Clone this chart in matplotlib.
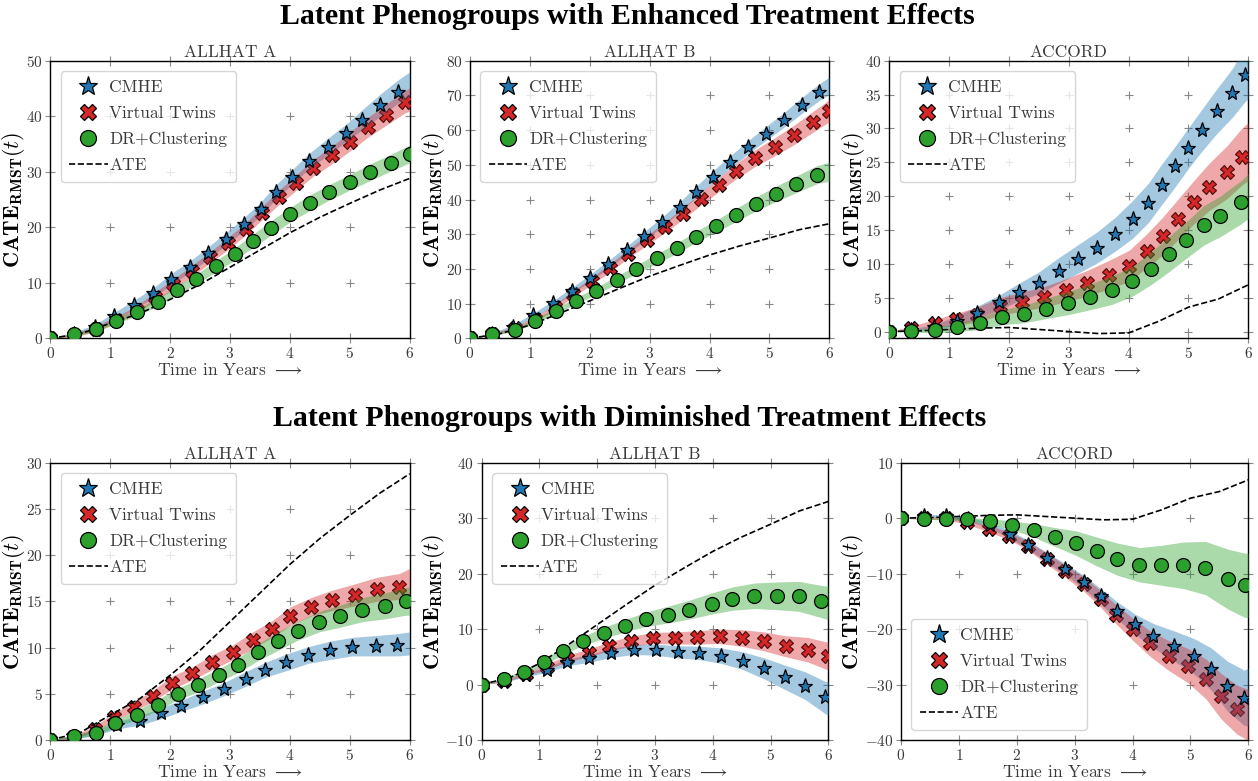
import numpy as np
import matplotlib
matplotlib.use("Agg")
import matplotlib.pyplot as plt
from matplotlib.lines import Line2D

plt.rcParams["font.family"] = "serif"
plt.rcParams["font.serif"] = ["cmr10"]
plt.rcParams["mathtext.fontset"] = "cm"
plt.rcParams["axes.formatter.use_mathtext"] = True

# ──────────────────────────────
# Data
# each series: marker times, marker values, band half-width,
# tail = (value, half-width) of the band at t=6 when no marker sits there
# ──────────────────────────────
ATE_T = [0, 0.5, 1, 1.5, 2, 2.5, 3, 3.5, 4, 4.5, 5, 5.5, 6]
ATE_ALLHAT_A = [0, 0.8, 2.7, 4.5, 7.0, 9.7, 12.8, 15.9, 19.0, 21.8, 24.3, 26.7, 28.8]
ATE_ALLHAT_B = [0, 1.3, 3.8, 7.2, 10.8, 14.4, 17.9, 21.0, 24.0, 26.6, 28.9, 31.3, 33.0]
ATE_ACCORD = [0, 0.1, 0.3, 0.5, 0.6, 0.3, 0.0, -0.3, -0.2, 1.5, 3.6, 4.8, 6.9]

# Enhanced, ALLHAT A
ENH_A_CMHE_T = [0, 0.39, 0.75, 1.07, 1.39, 1.71, 2.01, 2.33, 2.64, 2.93, 3.23, 3.51, 3.76, 4.04, 4.32, 4.63, 4.93, 5.21, 5.51, 5.80]
ENH_A_CMHE_Y = [0, 0.8, 2.0, 4.0, 6.0, 8.1, 10.6, 12.9, 15.4, 17.9, 20.5, 23.3, 26.3, 29.1, 31.9, 34.5, 36.9, 39.4, 42.0, 44.4]
ENH_A_CMHE_E = [0, 0.3, 0.5, 0.7, 0.8, 0.9, 1.0, 1.0, 1.1, 1.1, 1.2, 1.2, 1.3, 1.3, 1.4, 1.5, 1.6, 1.8, 2.0, 2.1]
ENH_A_CMHE_TAIL = (45.8, 2.2)
ENH_A_VT_T = [0, 0.39, 0.76, 1.09, 1.44, 1.74, 2.05, 2.37, 2.67, 2.97, 3.26, 3.54, 3.82, 4.10, 4.39, 4.70, 5.00, 5.30, 5.61, 5.92]
ENH_A_VT_Y = [0, 0.5, 1.7, 3.3, 5.1, 7.5, 9.7, 12.2, 14.6, 17.1, 19.7, 22.6, 25.4, 28.0, 30.7, 33.0, 35.4, 38.0, 40.3, 42.6]
ENH_A_VT_E = [0, 0.3, 0.5, 0.6, 0.7, 0.8, 0.9, 1.0, 1.0, 1.1, 1.1, 1.2, 1.3, 1.4, 1.5, 1.6, 1.7, 1.8, 1.9, 2.0]
ENH_A_VT_TAIL = (43.0, 2.1)
ENH_A_DR_T = [0, 0.39, 0.76, 1.09, 1.45, 1.79, 2.12, 2.44, 2.77, 3.08, 3.39, 3.69, 4.01, 4.33, 4.66, 5.00, 5.34, 5.68, 6.0]
ENH_A_DR_Y = [0, 0.7, 1.6, 3.1, 4.7, 6.5, 8.7, 10.7, 13.0, 15.2, 17.6, 19.9, 22.3, 24.4, 26.3, 28.1, 29.9, 31.6, 33.2]
ENH_A_DR_E = [0, 0.3, 0.4, 0.5, 0.6, 0.7, 0.8, 0.9, 1.0, 1.1, 1.2, 1.3, 1.3, 1.4, 1.4, 1.4, 1.5, 1.5, 1.6]
ENH_A_DR_TAIL = None

# Enhanced, ALLHAT B
ENH_B_CMHE_T = [0, 0.36, 0.72, 1.06, 1.39, 1.70, 2.01, 2.31, 2.62, 2.91, 3.21, 3.50, 3.77, 4.05, 4.34, 4.64, 4.94, 5.24, 5.54, 5.83]
ENH_B_CMHE_Y = [0, 1.2, 3.4, 6.6, 10.1, 13.7, 17.5, 21.3, 25.4, 29.4, 33.6, 37.8, 42.1, 46.5, 50.7, 55.0, 59.0, 62.9, 67.1, 70.9]
ENH_B_CMHE_E = [0, 0.3, 0.5, 0.7, 0.8, 0.9, 1.0, 1.1, 1.2, 1.3, 1.4, 1.5, 1.6, 1.7, 1.8, 1.9, 2.0, 2.1, 2.3, 2.4]
ENH_B_CMHE_TAIL = (72.8, 2.5)
ENH_B_VT_T = [0, 0.37, 0.75, 1.09, 1.42, 1.72, 2.03, 2.34, 2.64, 2.95, 3.26, 3.55, 3.85, 4.15, 4.45, 4.76, 5.09, 5.41, 5.72, 6.0]
ENH_B_VT_Y = [0, 1.1, 2.9, 5.5, 9.0, 12.8, 16.5, 20.3, 24.4, 28.2, 32.0, 35.9, 40.1, 44.2, 48.2, 51.9, 55.2, 58.6, 62.3, 65.6]
ENH_B_VT_E = [0, 0.3, 0.5, 0.7, 0.8, 0.9, 1.0, 1.2, 1.3, 1.4, 1.5, 1.7, 1.8, 2.0, 2.2, 2.4, 2.6, 2.8, 3.0, 3.2]
ENH_B_VT_TAIL = None
ENH_B_DR_T = [0, 0.37, 0.75, 1.08, 1.43, 1.77, 2.11, 2.45, 2.78, 3.12, 3.45, 3.77, 4.10, 4.44, 4.77, 5.11, 5.45, 5.80]
ENH_B_DR_Y = [0, 1.1, 2.5, 5.0, 7.9, 10.8, 13.7, 16.8, 19.9, 23.0, 25.9, 29.2, 32.3, 35.5, 38.7, 41.6, 44.4, 47.2]
ENH_B_DR_E = [0, 0.3, 0.5, 0.7, 0.8, 0.9, 1.0, 1.1, 1.2, 1.4, 1.5, 1.6, 1.7, 1.9, 2.0, 2.2, 2.4, 2.6]
ENH_B_DR_TAIL = (48.0, 2.75)

# Enhanced, ACCORD
ENH_C_CMHE_T = [0, 0.36, 0.75, 1.13, 1.46, 1.84, 2.16, 2.50, 2.83, 3.15, 3.47, 3.78, 4.07, 4.33, 4.55, 4.78, 5.00, 5.23, 5.47, 5.73, 5.94]
ENH_C_CMHE_Y = [0, 0.2, 0.6, 1.6, 2.8, 4.3, 5.8, 7.2, 9.0, 10.7, 12.4, 14.4, 16.6, 19.0, 21.7, 24.4, 27.1, 29.8, 32.5, 35.2, 37.9]
ENH_C_CMHE_E = [0, 0.2, 0.4, 0.7, 0.9, 1.1, 1.3, 1.6, 1.9, 2.1, 2.3, 2.5, 2.8, 2.9, 3.0, 3.0, 3.0, 3.1, 3.3, 3.6, 4.0]
ENH_C_CMHE_TAIL = (38.6, 4.2)
ENH_C_VT_T = [0, 0.37, 0.76, 1.12, 1.47, 1.85, 2.21, 2.58, 2.95, 3.30, 3.67, 4.01, 4.30, 4.57, 4.83, 5.09, 5.35, 5.64, 5.89]
ENH_C_VT_Y = [0, 0.5, 1.2, 1.8, 2.5, 3.7, 4.4, 5.1, 6.1, 7.1, 8.4, 9.7, 11.9, 14.1, 16.6, 19.1, 21.4, 23.5, 25.8]
ENH_C_VT_E = [0, 0.3, 0.6, 0.9, 1.1, 1.3, 1.4, 1.5, 1.7, 1.9, 2.1, 2.3, 2.5, 2.8, 3.0, 3.2, 3.5, 3.9, 4.2]
ENH_C_VT_TAIL = (26.6, 4.3)
ENH_C_DR_T = [0, 0.37, 0.77, 1.13, 1.52, 1.88, 2.25, 2.62, 2.99, 3.35, 3.72, 4.06, 4.37, 4.67, 4.96, 5.26, 5.53, 5.88]
ENH_C_DR_Y = [0, 0.1, 0.2, 0.6, 1.2, 2.1, 2.6, 3.4, 4.2, 5.1, 6.1, 7.4, 9.3, 11.4, 13.5, 15.7, 17.0, 19.1]
ENH_C_DR_E = [0, 0.2, 0.4, 0.6, 0.9, 1.1, 1.3, 1.5, 1.7, 1.9, 2.1, 2.2, 2.4, 2.6, 2.7, 2.9, 3.0, 3.2]
ENH_C_DR_TAIL = (20.0, 3.3)

# Diminished, ALLHAT A
DIM_A_CMHE_T = [0, 0.40, 0.76, 1.11, 1.49, 1.85, 2.19, 2.55, 2.90, 3.26, 3.59, 3.94, 4.31, 4.67, 5.04, 5.43, 5.79]
DIM_A_CMHE_Y = [0, 0.3, 0.8, 1.6, 2.1, 2.9, 3.7, 4.6, 5.5, 6.6, 7.6, 8.4, 9.2, 9.7, 10.1, 10.2, 10.3]
DIM_A_CMHE_E = [0, 0.2, 0.3, 0.4, 0.5, 0.6, 0.6, 0.7, 0.7, 0.8, 0.8, 0.9, 0.9, 1.0, 1.0, 1.1, 1.2]
DIM_A_CMHE_TAIL = (10.45, 1.25)
DIM_A_VT_T = [0, 0.38, 0.74, 1.06, 1.39, 1.72, 2.03, 2.37, 2.70, 3.05, 3.38, 3.70, 4.01, 4.35, 4.70, 5.09, 5.45, 5.82]
DIM_A_VT_Y = [0, 0.3, 1.2, 2.5, 3.6, 4.8, 6.2, 7.2, 8.4, 9.5, 10.8, 12.0, 13.4, 14.4, 15.1, 15.7, 16.3, 16.6]
DIM_A_VT_E = [0, 0.2, 0.3, 0.4, 0.5, 0.6, 0.7, 0.7, 0.8, 0.8, 0.9, 0.9, 1.0, 1.0, 1.1, 1.2, 1.3, 1.4]
DIM_A_VT_TAIL = (17.05, 1.5)
DIM_A_DR_T = [0, 0.40, 0.76, 1.08, 1.44, 1.79, 2.13, 2.47, 2.81, 3.14, 3.47, 3.80, 4.13, 4.49, 4.84, 5.21, 5.58, 5.94]
DIM_A_DR_Y = [0, 0.4, 0.8, 1.8, 2.7, 3.8, 5.0, 5.9, 7.0, 8.1, 9.5, 10.7, 11.8, 12.8, 13.4, 14.1, 14.5, 15.0]
DIM_A_DR_E = [0, 0.2, 0.3, 0.4, 0.5, 0.6, 0.6, 0.7, 0.7, 0.8, 0.9, 1.0, 1.0, 1.1, 1.2, 1.3, 1.4, 1.5]
DIM_A_DR_TAIL = (15.05, 1.55)

# Diminished, ALLHAT B
DIM_B_CMHE_T = [0, 0.39, 0.76, 1.13, 1.48, 1.86, 2.24, 2.63, 3.01, 3.39, 3.77, 4.15, 4.52, 4.89, 5.25, 5.60, 5.94]
DIM_B_CMHE_Y = [0, 0.6, 1.7, 2.7, 4.0, 4.7, 5.7, 6.3, 6.3, 5.9, 5.7, 5.2, 4.3, 2.9, 1.3, -0.2, -2.3]
DIM_B_CMHE_E = [0, 0.2, 0.3, 0.5, 0.6, 0.7, 0.8, 0.9, 1.0, 1.1, 1.2, 1.4, 1.6, 1.9, 2.2, 2.5, 2.9]
DIM_B_CMHE_TAIL = (-2.5, 3.0)
DIM_B_VT_T = [0, 0.39, 0.76, 1.13, 1.48, 1.85, 2.21, 2.58, 2.97, 3.35, 3.73, 4.12, 4.50, 4.88, 5.26, 5.64, 6.0]
DIM_B_VT_Y = [0, 0.7, 1.9, 3.2, 4.7, 5.7, 6.9, 7.8, 8.4, 8.4, 8.5, 8.7, 8.4, 7.8, 6.9, 6.3, 5.1]
DIM_B_VT_E = [0, 0.2, 0.3, 0.5, 0.6, 0.7, 0.8, 0.9, 1.0, 1.1, 1.2, 1.3, 1.5, 1.7, 1.9, 2.2, 2.5]
DIM_B_VT_TAIL = None
DIM_B_DR_T = [0, 0.39, 0.74, 1.08, 1.41, 1.76, 2.11, 2.48, 2.85, 3.22, 3.59, 3.98, 4.34, 4.72, 5.11, 5.49, 5.87]
DIM_B_DR_Y = [0, 1.0, 2.3, 4.1, 6.1, 7.9, 9.3, 10.6, 11.8, 12.6, 13.5, 14.6, 15.5, 16.0, 16.0, 15.9, 15.0]
DIM_B_DR_E = [0, 0.2, 0.4, 0.5, 0.7, 0.8, 1.0, 1.1, 1.3, 1.5, 1.7, 1.9, 2.1, 2.3, 2.5, 2.7, 2.9]
DIM_B_DR_TAIL = (14.7, 3.0)

# Diminished, ACCORD
DIM_C_CMHE_T = [0, 0.40, 0.77, 1.15, 1.53, 1.88, 2.20, 2.52, 2.84, 3.17, 3.45, 3.74, 4.04, 4.36, 4.71, 5.06, 5.36, 5.64, 5.93]
DIM_C_CMHE_Y = [0, 0.4, 0.4, -0.1, -1.3, -2.9, -4.8, -7.1, -9.2, -11.6, -14.1, -16.7, -19.1, -21.2, -23.0, -24.9, -27.2, -30.3, -32.4]
DIM_C_CMHE_E = [0, 0.2, 0.3, 0.4, 0.5, 0.7, 0.8, 0.9, 1.0, 1.2, 1.4, 1.6, 1.8, 2.2, 2.7, 3.2, 3.8, 4.5, 5.0]
DIM_C_CMHE_TAIL = (-32.2, 5.2)
DIM_C_VT_T = [0, 0.40, 0.77, 1.14, 1.52, 1.87, 2.20, 2.52, 2.84, 3.16, 3.45, 3.72, 4.00, 4.30, 4.63, 4.96, 5.27, 5.53, 5.80]
DIM_C_VT_Y = [0, 0, 0, -0.7, -1.9, -3.2, -5.0, -7.3, -9.6, -11.9, -14.6, -17.4, -20.0, -22.6, -24.8, -26.6, -29.0, -32.1, -34.5]
DIM_C_VT_E = [0, 0.2, 0.3, 0.4, 0.6, 0.7, 0.8, 1.0, 1.1, 1.3, 1.5, 1.7, 2.0, 2.3, 2.7, 3.1, 3.6, 4.1, 4.4]
DIM_C_VT_TAIL = (-35.5, 4.6)
DIM_C_DR_T = [0, 0.40, 0.77, 1.14, 1.53, 1.92, 2.29, 2.66, 3.02, 3.38, 3.74, 4.12, 4.50, 4.88, 5.26, 5.65, 5.94]
DIM_C_DR_Y = [0, -0.1, -0.1, -0.2, -0.6, -1.3, -2.2, -3.4, -4.5, -6.0, -7.4, -8.4, -8.5, -8.5, -9.0, -11.0, -12.1]
DIM_C_DR_E = [0, 0.1, 0.2, 0.3, 0.5, 0.8, 1.2, 1.7, 2.2, 2.6, 2.9, 3.1, 3.6, 4.2, 4.8, 5.4, 5.8]
DIM_C_DR_TAIL = (-12.1, 5.8)

# ──────────────────────────────
# Style
# ──────────────────────────────
LABELS = ["CMHE", "Virtual Twins", "DR+Clustering"]
COLORS = ["#1f77b4", "#d62728", "#2ca02c"]
MARKERS = ["*", "X", "o"]
MSIZES = [11, 9.5, 10]
LEG_MSIZES = [14, 11.5, 11.5]
MZORDER = [5, 2.9, 5]
TICK_GRAY = "#888888"
TEXT_GRAY = "#3a3a3a"

W, H = 1258, 781
ROW_TITLES = ["Latent Phenogroups with Enhanced Treatment Effects",
              "Latent Phenogroups with Diminished Treatment Effects"]


def px_axes(left, top, right, bottom):
    return [left / W, 1 - bottom / H, (right - left) / W, (bottom - top) / H]


# ylab_px: right edge of the (rotated) y label, in figure pixels
PANELS = [
    dict(title="ALLHAT A", box=(50.3, 60.7, 409.7, 338.3), ylab_px=27, ylim=(0, 50), ystep=10,
         ate=ATE_ALLHAT_A, loc="upper left",
         series=[(ENH_A_CMHE_T, ENH_A_CMHE_Y, ENH_A_CMHE_E, ENH_A_CMHE_TAIL),
                 (ENH_A_VT_T, ENH_A_VT_Y, ENH_A_VT_E, ENH_A_VT_TAIL),
                 (ENH_A_DR_T, ENH_A_DR_Y, ENH_A_DR_E, ENH_A_DR_TAIL)]),
    dict(title="ALLHAT B", box=(470, 60.7, 829.3, 338.3), ylab_px=447, ylim=(0, 80), ystep=10,
         ate=ATE_ALLHAT_B, loc="upper left",
         series=[(ENH_B_CMHE_T, ENH_B_CMHE_Y, ENH_B_CMHE_E, ENH_B_CMHE_TAIL),
                 (ENH_B_VT_T, ENH_B_VT_Y, ENH_B_VT_E, ENH_B_VT_TAIL),
                 (ENH_B_DR_T, ENH_B_DR_Y, ENH_B_DR_E, ENH_B_DR_TAIL)]),
    dict(title="ACCORD", box=(889.3, 60.7, 1248.3, 338.3), ylab_px=867, ylim=(-1, 40), ystep=5,
         ate=ATE_ACCORD, loc="upper left",
         series=[(ENH_C_CMHE_T, ENH_C_CMHE_Y, ENH_C_CMHE_E, ENH_C_CMHE_TAIL),
                 (ENH_C_VT_T, ENH_C_VT_Y, ENH_C_VT_E, ENH_C_VT_TAIL),
                 (ENH_C_DR_T, ENH_C_DR_Y, ENH_C_DR_E, ENH_C_DR_TAIL)]),
    dict(title="ALLHAT A", box=(50.3, 462.7, 409.7, 740), ylab_px=27, ylim=(0, 30), ystep=5,
         ate=ATE_ALLHAT_A, loc="upper left",
         series=[(DIM_A_CMHE_T, DIM_A_CMHE_Y, DIM_A_CMHE_E, DIM_A_CMHE_TAIL),
                 (DIM_A_VT_T, DIM_A_VT_Y, DIM_A_VT_E, DIM_A_VT_TAIL),
                 (DIM_A_DR_T, DIM_A_DR_Y, DIM_A_DR_E, DIM_A_DR_TAIL)]),
    dict(title="ALLHAT B", box=(481.7, 462.7, 828.3, 740), ylab_px=447, ylim=(-10, 40), ystep=10,
         ate=ATE_ALLHAT_B, loc="upper left",
         series=[(DIM_B_CMHE_T, DIM_B_CMHE_Y, DIM_B_CMHE_E, DIM_B_CMHE_TAIL),
                 (DIM_B_VT_T, DIM_B_VT_Y, DIM_B_VT_E, DIM_B_VT_TAIL),
                 (DIM_B_DR_T, DIM_B_DR_Y, DIM_B_DR_E, DIM_B_DR_TAIL)]),
    dict(title="ACCORD", box=(901, 462.7, 1248.3, 740), ylab_px=866, ylim=(-40, 10), ystep=10,
         ate=ATE_ACCORD, loc="lower left",
         series=[(DIM_C_CMHE_T, DIM_C_CMHE_Y, DIM_C_CMHE_E, DIM_C_CMHE_TAIL),
                 (DIM_C_VT_T, DIM_C_VT_Y, DIM_C_VT_E, DIM_C_VT_TAIL),
                 (DIM_C_DR_T, DIM_C_DR_Y, DIM_C_DR_E, DIM_C_DR_TAIL)]),
]


def draw_panel(ax, p):
    for (t, y, e, tail), color, marker, ms, mz in zip(p["series"], COLORS, MARKERS, MSIZES, MZORDER):
        t, y, e = np.array(t, float), np.array(y, float), np.array(e, float)
        ax.plot(t, y, linestyle="none", marker=marker, ms=ms, mfc=color,
                mec="black", mew=0.9, zorder=mz)
        tb, yb, eb = t, y, e
        if tail is not None:
            tb = np.append(t, 6.0)
            yb = np.append(y, tail[0])
            eb = np.append(e, tail[1])
        ax.fill_between(tb, yb - eb, yb + eb, color=color, alpha=0.4, lw=0, zorder=3)

    ax.plot(ATE_T, p["ate"], color="black", ls="--", lw=1.2, zorder=4)

    ax.set_xlim(0, 6)
    ax.set_ylim(*p["ylim"])
    xt = np.arange(0, 7, 1)
    lo = int(np.ceil(p["ylim"][0] / p["ystep"]) * p["ystep"])
    yt = np.arange(lo, p["ylim"][1] + 0.01, p["ystep"])
    ax.set_xticks(xt)
    ax.set_yticks(yt)
    ax.tick_params(direction="inout", length=7, width=0.8, color=TICK_GRAY,
                   labelcolor=TEXT_GRAY, labelsize=11, top=True, right=True, pad=2)

    # "+" marks at the interior tick crossings
    gx, gy = np.meshgrid(xt[1:-1], [v for v in yt if p["ylim"][0] < v < p["ylim"][1]])
    ax.plot(gx.ravel(), gy.ravel(), linestyle="none", marker="+", ms=6,
            mew=0.8, color=TICK_GRAY, zorder=1)

    for s in ax.spines.values():
        s.set_linewidth(1.0)

    left, top, right, bottom = p["box"]
    ax.set_title(p["title"], fontsize=12.5, color=TEXT_GRAY, pad=3)
    ax.set_xlabel(r"Time in Years $\longrightarrow$", fontsize=12.5, color=TEXT_GRAY, labelpad=1)
    ax.set_ylabel(r"$\mathbf{CATE}_{\mathbf{RMST}}(t)$", fontsize=16)
    ax.yaxis.set_label_coords((p["ylab_px"] - left) / (right - left), 0.5)

    handles = [Line2D([], [], linestyle="none", marker=m, ms=s, mfc=c, mec="black", mew=0.9)
               for m, s, c in zip(MARKERS, LEG_MSIZES, COLORS)]
    handles.append(Line2D([], [], color="black", ls="--", lw=1.2))
    leg = ax.legend(handles, LABELS + ["ATE"], loc=p["loc"], fontsize=12.5,
                    framealpha=0.8, edgecolor="#cccccc", fancybox=True,
                    borderpad=0.5, labelspacing=0.62, handletextpad=0.1,
                    handlelength=2.2, borderaxespad=0.6)
    for txt in leg.get_texts():
        txt.set_color(TEXT_GRAY)
    leg.set_zorder(10)


fig = plt.figure(figsize=(W / 100, H / 100), dpi=100)
for p in PANELS:
    ax = fig.add_axes(px_axes(*p["box"]))
    draw_panel(ax, p)

fig.text(0.4988, 1 - 17 / H, ROW_TITLES[0], ha="center", va="center", fontsize=21.5,
         fontweight="bold", family="Liberation Serif")
fig.text(0.5008, 1 - 419 / H, ROW_TITLES[1], ha="center", va="center", fontsize=21.5,
         fontweight="bold", family="Liberation Serif")

fig.savefig("out.png", dpi=100)
